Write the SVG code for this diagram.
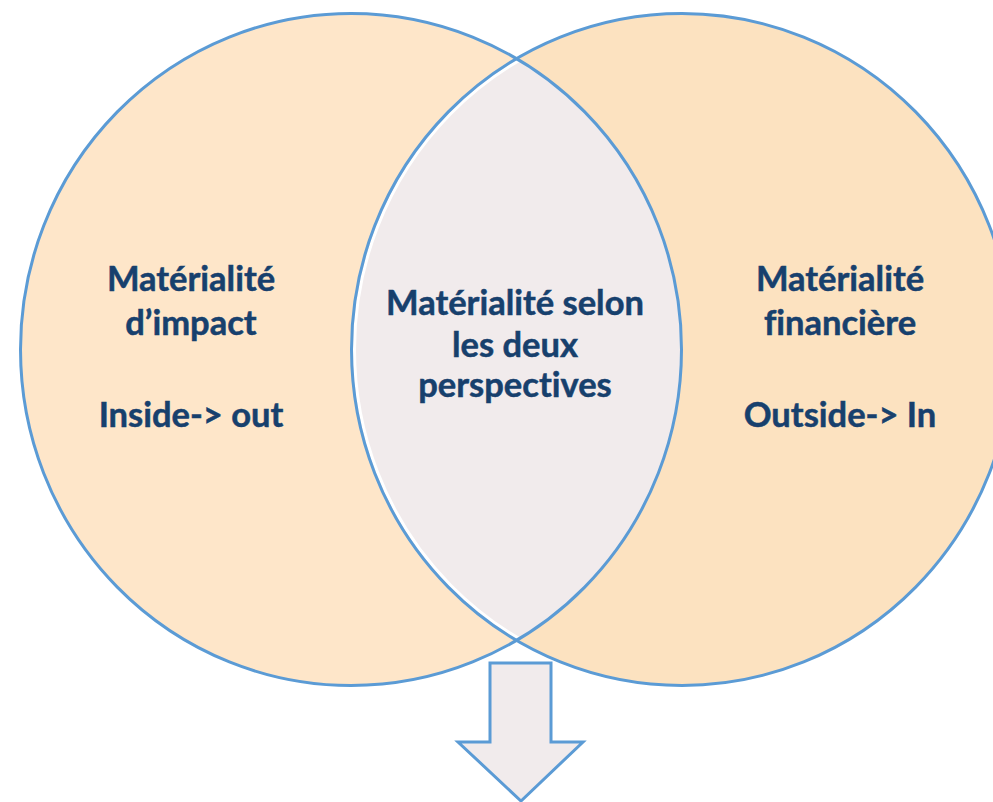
<svg xmlns="http://www.w3.org/2000/svg" width="993" height="802" viewBox="0 0 993 802">
<defs>
<style>
.lbl{font-family:Lato,"Open Sans","Liberation Sans",sans-serif;font-weight:bold;font-size:34.5px;fill:#17406D;stroke:#17406D;stroke-width:0.5;text-anchor:middle;font-variant-ligatures:none}
.edge{fill:none;stroke:#5B9BD5;stroke-width:3}
</style>
<clipPath id="clipL"><ellipse cx="351" cy="349.5" rx="330.5" ry="336"/></clipPath>
</defs>
<rect width="993" height="802" fill="#FFFFFF"/>
<g id="circle-left">
<ellipse cx="351" cy="349.5" rx="330.5" ry="336" fill="#FEE6C9"/>
</g>
<g id="circle-right">
<ellipse cx="682" cy="349.5" rx="330.5" ry="336" fill="#FCE2C0"/>
</g>
<g id="lens">
<ellipse cx="682" cy="349.5" rx="330.5" ry="336" fill="#F1EBEC" clip-path="url(#clipL)"/>
<ellipse cx="682" cy="349.5" rx="327.5" ry="333" fill="none" stroke="#FFFFFF" stroke-width="3" clip-path="url(#clipL)"/>
</g>
<g id="outlines">
<ellipse class="edge" cx="351" cy="349.5" rx="330.5" ry="336"/>
<ellipse class="edge" cx="682" cy="349.5" rx="330.5" ry="336"/>
</g>
<g id="arrow">
<polygon points="490,663 551,663 551,742 583,742 521,801 458,742 490,742" fill="#F1EBEC" stroke="#5B9BD5" stroke-width="3" stroke-linejoin="miter"/>
</g>
<g id="label-left">
<text class="lbl" x="191" y="291">Matérialité</text>
<text class="lbl" x="191" y="335">d’impact</text>
<text class="lbl" x="191" y="427">Inside-&gt; out</text>
</g>
<g id="label-center">
<text class="lbl" x="515" y="315">Matérialité selon</text>
<text class="lbl" x="515" y="357">les deux</text>
<text class="lbl" x="515" y="397">perspectives</text>
</g>
<g id="label-right">
<text class="lbl" x="840" y="291">Matérialité</text>
<text class="lbl" x="840" y="335">financière</text>
<text class="lbl" x="840" y="427">Outside-&gt; In</text>
</g>
</svg>
